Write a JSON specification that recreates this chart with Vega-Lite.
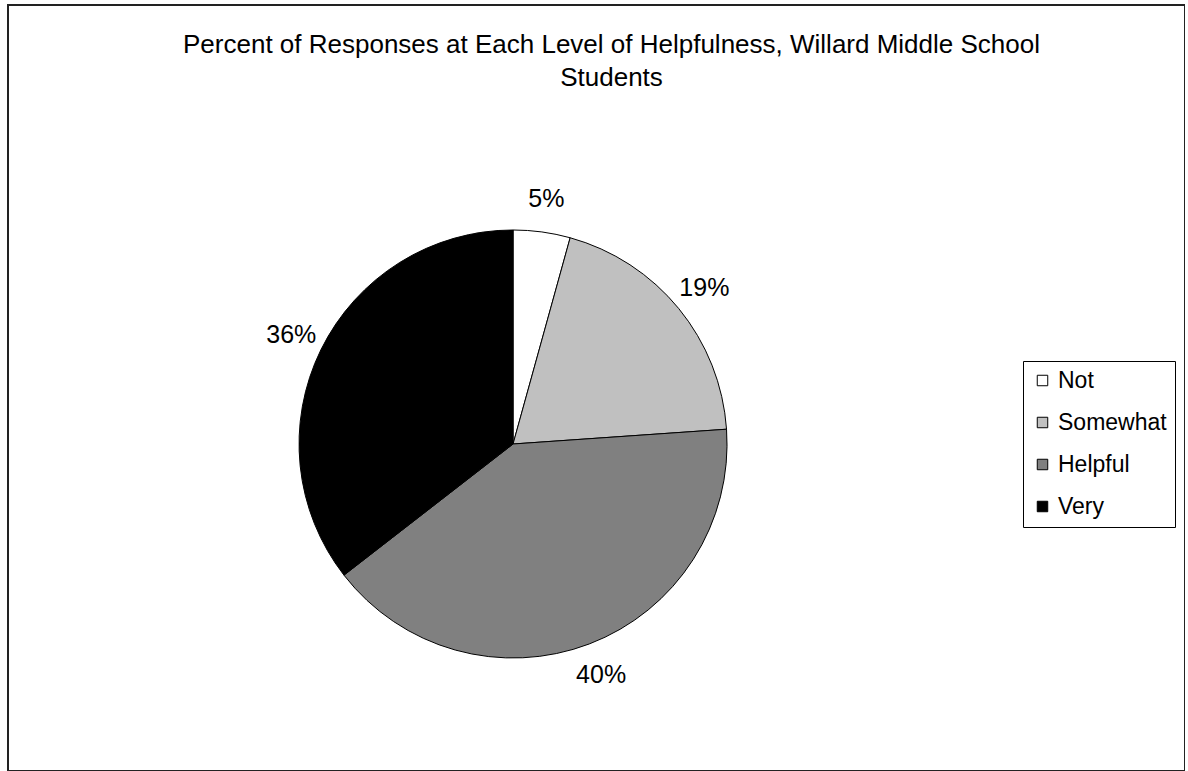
{
  "$schema": "https://vega.github.io/schema/vega-lite/v6.json",
  "autosize": {"type": "none"},
  "padding": {"left": 8, "top": 5, "right": 0, "bottom": 0},
  "width": 1177,
  "height": 766,
  "background": "white",
  "title": {
    "text": ["Percent of Responses at Each Level of Helpfulness, Willard Middle School", "Students"],
    "font": "Liberation Sans",
    "fontSize": 26,
    "fontWeight": "normal",
    "color": "#000000",
    "anchor": "middle",
    "frame": "group",
    "offset": 0,
    "dy": 86,
    "dx": 15,
    "lineHeight": 33
  },
  "data": {
    "values": [
      {"level": "Not", "pct": 4.3, "label": "5%", "rank": 1},
      {"level": "Somewhat", "pct": 19.6, "label": "19%", "rank": 2},
      {"level": "Helpful", "pct": 40.6, "label": "40%", "rank": 3},
      {"level": "Very", "pct": 35.5, "label": "36%", "rank": 4}
    ]
  },
  "encoding": {
    "theta": {"field": "pct", "type": "quantitative", "stack": true},
    "order": {"field": "rank", "type": "quantitative"},
    "x": {"datum": 0.4291, "type": "quantitative", "scale": {"domain": [0, 1]}, "axis": null},
    "y": {"datum": 0.4269, "type": "quantitative", "scale": {"domain": [0, 1]}, "axis": null}
  },
  "layer": [
    {
      "mark": {"type": "arc", "radius": 214, "stroke": "#000000", "strokeWidth": 1},
      "encoding": {
        "color": {
          "field": "level",
          "type": "nominal",
          "scale": {"domain": ["Not", "Somewhat", "Helpful", "Very"], "range": ["#ffffff", "#c0c0c0", "#808080", "#000000"]},
          "legend": {
            "orient": "none",
            "legendX": 1015,
            "legendY": 356,
            "title": null,
            "strokeColor": "#000000",
            "fillColor": "#ffffff",
            "padding": 8,
            "symbolType": "square",
            "symbolSize": 110,
            "symbolStrokeColor": "#000000",
            "symbolStrokeWidth": 1,
            "labelFont": "Liberation Sans",
            "labelFontSize": 23,
            "labelColor": "#000000",
            "rowPadding": 18,
            "labelOffset": 4,
            "labelLimit": 300
          }
        }
      }
    },
    {
      "mark": {"type": "text", "radius": 247, "font": "Liberation Sans", "fontSize": 25, "color": "#000000"},
      "encoding": {"text": {"field": "label"}}
    }
  ],
  "config": {"view": {"stroke": "#222222", "strokeWidth": 2}}
}
